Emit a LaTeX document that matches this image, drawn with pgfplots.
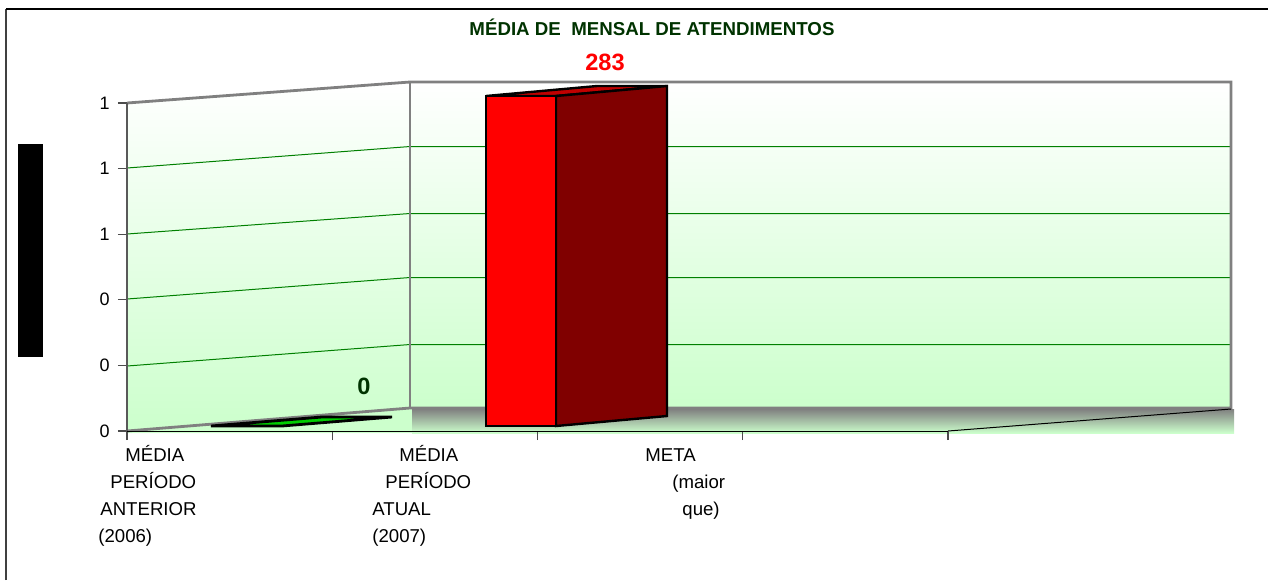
\documentclass[border=0pt]{standalone}
\usepackage{fontspec}
\setmainfont{Liberation Sans}
\usepackage{pgfplots}
\pgfplotsset{compat=1.18}
\definecolor{wallgreen}{HTML}{CCFFCC}
\definecolor{wallgray}{HTML}{808080}
\definecolor{titlegreen}{HTML}{003300}
\definecolor{gridgreen}{HTML}{008000}
\definecolor{barred}{HTML}{FF0000}
\definecolor{bardark}{HTML}{800000}
\definecolor{bartop}{HTML}{C00000}
\definecolor{bargreen}{HTML}{00CC00}

\begin{document}
\begin{tikzpicture}
\useasboundingbox (0,0) rectangle (634pt,290pt);
% canvas in reference pixels (1 px = 0.5 pt)
\begin{axis}[
    name=canvas,
    at={(0,0)}, anchor=south west,
    width=634pt, height=290pt, scale only axis,
    xmin=0, xmax=1268, ymin=0, ymax=580,
    y dir=reverse,
    hide axis,
]
% outer frame
\addplot[color=black!75, line width=0.75pt] coordinates {(6,580) (6,9)};
\addplot[color=black, line width=0.75pt] coordinates {(6,9) (1268,9)};
% y title box
\addplot[fill=black, draw=none] coordinates {(18,144) (43,144) (43,357) (18,357)} --cycle;
% floor
\addplot[fill=wallgreen, draw=none] coordinates {(127,431) (412,408) (412,433) (127,433)} --cycle;
\addplot[top color=wallgray, bottom color=wallgreen, draw=none] coordinates {(412,409) (1234,409) (1234,433) (412,433)} --cycle;
% walls
\addplot[top color=white, bottom color=wallgreen, draw=none] coordinates {(127,103) (410,82) (410,409) (127,431)} --cycle;
\addplot[top color=white, bottom color=wallgreen, draw=none] coordinates {(410,82) (1231,82) (1231,408) (410,408)} --cycle;
% gridlines
\addplot[color=gridgreen, line width=0.5pt] coordinates {(127,168) (410,146.5) (1231,146.5)};
\addplot[color=gridgreen, line width=0.5pt] coordinates {(127,234) (410,213.5) (1231,213.5)};
\addplot[color=gridgreen, line width=0.5pt] coordinates {(127,299) (410,277.5) (1231,277.5)};
\addplot[color=gridgreen, line width=0.5pt] coordinates {(127,366) (410,344.5) (1231,344.5)};
% wall outlines
\addplot[color=wallgray, line width=1.4pt] coordinates {(127,431) (410,408) (1231,408) (1231,82) (410,82) (127,103)};
\addplot[color=wallgray, line width=1.4pt] coordinates {(410,82) (410,408)};
\addplot[color=black, line width=0.5pt] coordinates {(948,431) (1231,409)};
% first bar, value 0
\addplot[fill=bargreen, draw=black, line width=1.4pt] coordinates {(211,426) (282,426) (392,417) (322,417)} --cycle;
% second bar, value 283
\addplot[fill=bartop, draw=black, line width=1.2pt] coordinates {(486,96) (597,86) (667,86) (556,96)} --cycle;
\addplot[fill=bardark, draw=black, line width=1.2pt] coordinates {(556,96) (667,86) (667,416) (556,426)} --cycle;
\addplot[fill=barred, draw=black, line width=1.2pt] coordinates {(486,96) (556,96) (556,426) (486,426)} --cycle;
% texts
\node[font=\fontsize{9.35pt}{11pt}\selectfont\bfseries, color=titlegreen] at (axis cs:652,27) {MÉDIA DE\ \ MENSAL DE ATENDIMENTOS};
\node[font=\fontsize{11.8pt}{13pt}\selectfont\bfseries, color=barred] at (axis cs:605,62) {283};
\node[font=\fontsize{11.8pt}{13pt}\selectfont\bfseries, color=titlegreen] at (axis cs:364,386) {0};
\begin{scope}[every node/.style={anchor=base west, inner sep=0pt, font=\fontsize{9.3pt}{11pt}\selectfont}]
\node at (axis cs:125,461) {MÉDIA};
\node at (axis cs:110,488) {PERÍODO};
\node at (axis cs:100,515) {ANTERIOR};
\node at (axis cs:98,542) {(2006)};
\node at (axis cs:399,461) {MÉDIA};
\node at (axis cs:385,488) {PERÍODO};
\node at (axis cs:372,515) {ATUAL};
\node at (axis cs:372,542) {(2007)};
\node at (axis cs:645,461) {META};
\node at (axis cs:672,488) {(maior};
\node at (axis cs:682,515) {que)};
\end{scope}
\end{axis}
% value axis
\begin{axis}[
    at={(63.5pt,74.5pt)}, anchor=south west,
    width=410.5pt, height=164pt, scale only axis,
    xmin=0, xmax=4, ymin=0, ymax=1,
    axis lines=left,
    axis line style={-, line width=0.5pt},
    y axis line style={color=black!65, line width=1pt},
    xtick={0,1,2,3,4}, xticklabels={},
    ytick={0,0.2,0.4,0.6,0.8,1},
    tick align=outside,
    major tick length=4.5pt,
    tick style={color=black!70, line width=0.6pt},
    yticklabel style={font=\fontsize{9pt}{10pt}\selectfont, inner sep=0pt, xshift=-4pt},
    /pgf/number format/assume math mode=true,
    /pgf/number format/fixed, /pgf/number format/precision=0,
    clip=false,
]
\end{axis}
\end{tikzpicture}
\end{document}
